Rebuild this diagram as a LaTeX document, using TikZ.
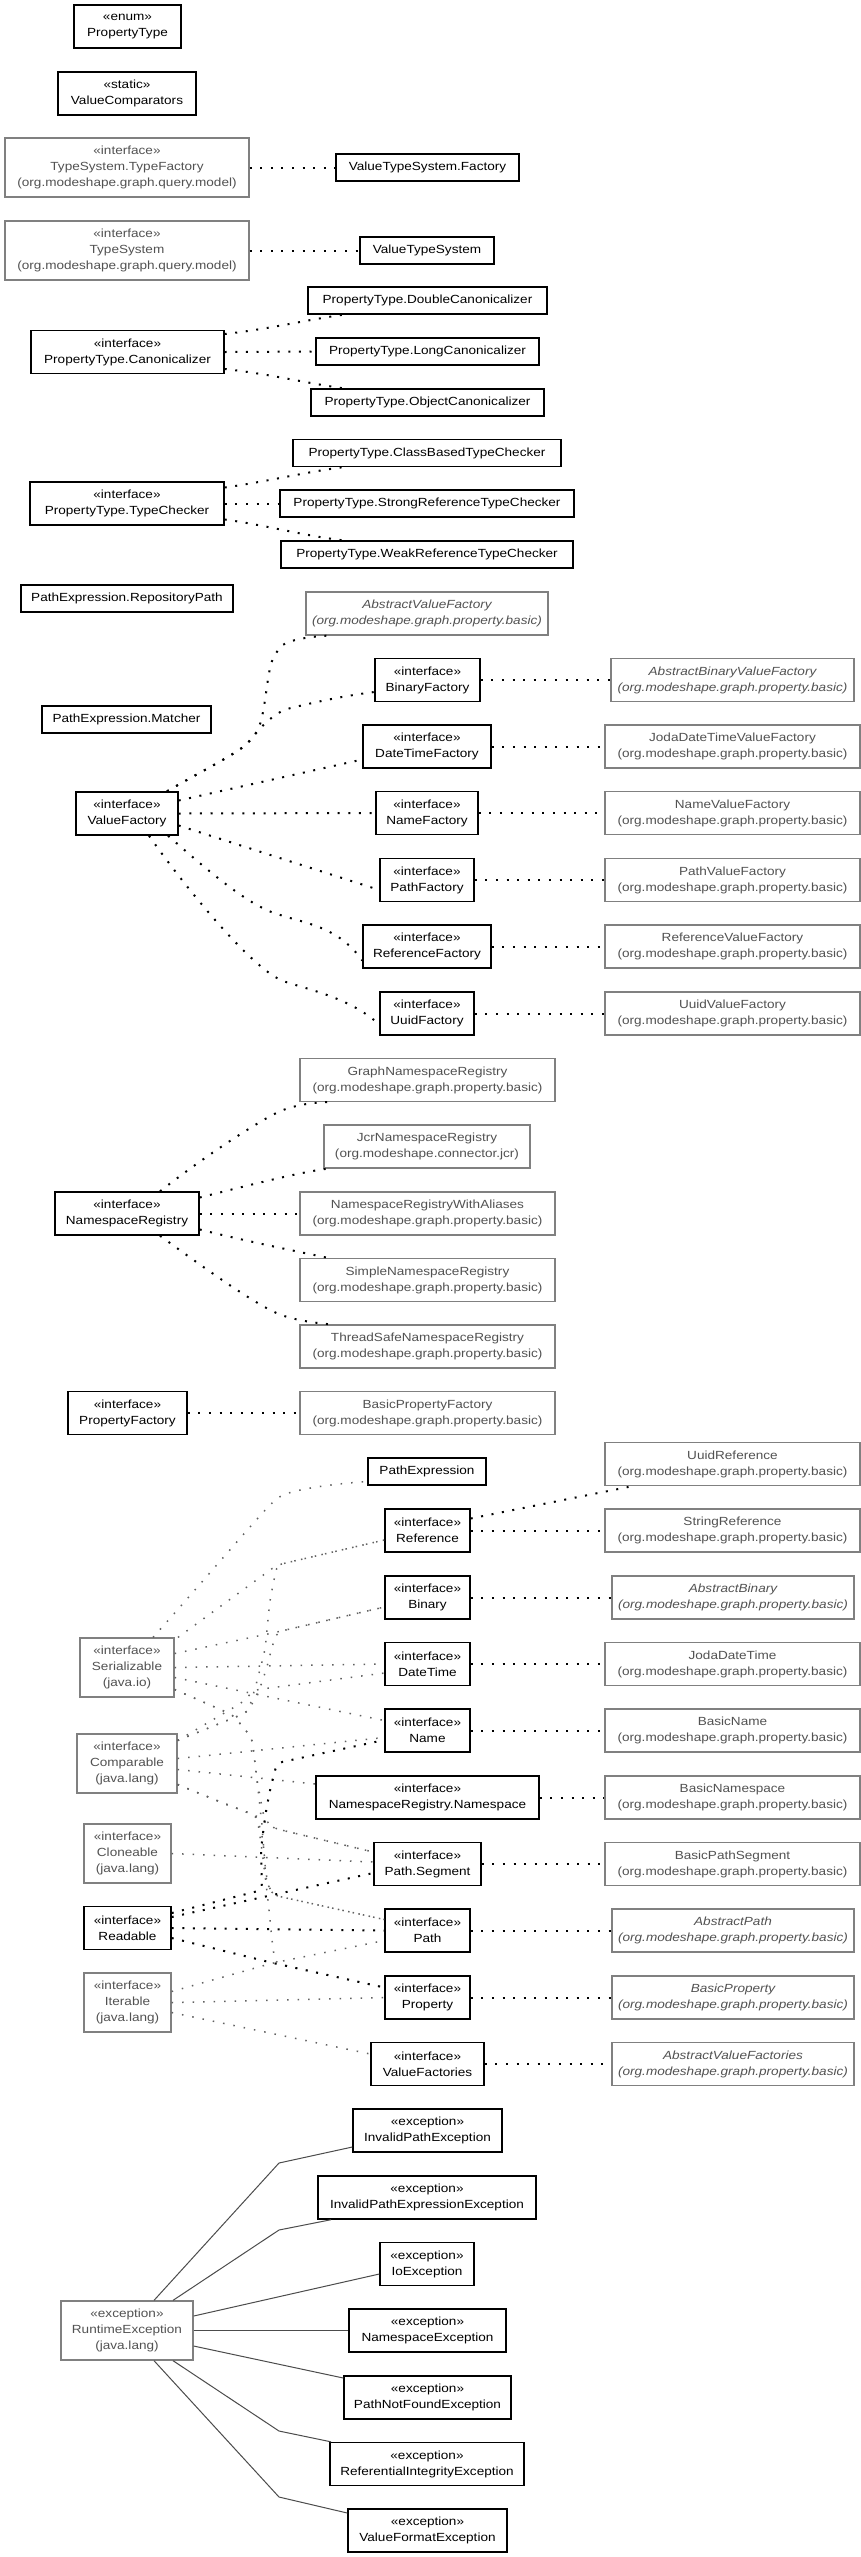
\documentclass[tikz,border=0pt]{standalone}
\usepackage{fontspec}
\setmainfont{Liberation Sans}[FakeStretch=1.15]
\newcommand\fs{\fontsize{11.8pt}{16pt}\selectfont}
\begin{document}
\begin{tikzpicture}[x=1pt,y=-1pt,
  cls/.style={draw=black, line width=1.4pt, fill=white, align=center, inner sep=0pt, font=\fs, text=black, minimum height=43pt},
  ext/.style={cls, line width=1.3pt, draw=black!50, text=black!68},
  one/.style={minimum height=27pt},
  three/.style={minimum height=59pt},
  wd/.style={minimum width=#1},
  itl/.style={font=\fs\itshape},
  dep/.style={draw=black, line width=2pt, dash pattern=on 2pt off 8.6pt, rounded corners=6pt},
  jdep/.style={draw=black!62, line width=1.5pt, dash pattern=on 1.5pt off 9pt, rounded corners=6pt},
  gen/.style={draw=black!70, line width=1pt},
]
\useasboundingbox (0,0) rectangle (861,2557);
\fill[white] (0,0) rectangle (861,2557);

% ---------- top ----------
\node[cls, wd=107pt] (pt) at (127.5,26.5) {«enum»\\PropertyType};
\node[cls, wd=138pt] (vc) at (127,93.5) {«static»\\ValueComparators};
\node[ext, three, wd=244pt] (tsf) at (127,167.5) {«interface»\\TypeSystem.TypeFactory\\(org.modeshape.graph.query.model)};
\node[cls, one, wd=183pt] (vtsf) at (427.5,167.5) {ValueTypeSystem.Factory};
\node[ext, three, wd=244pt] (ts) at (127,250.5) {«interface»\\TypeSystem\\(org.modeshape.graph.query.model)};
\node[cls, one, wd=134pt] (vts) at (427,250.5) {ValueTypeSystem};
\node[cls, one, wd=239pt] (dcan) at (427.5,300.5) {PropertyType.DoubleCanonicalizer};
\node[cls, wd=193pt] (can) at (127.5,352) {«interface»\\PropertyType.Canonicalizer};
\node[cls, one, wd=223pt] (lcan) at (427.5,351.5) {PropertyType.LongCanonicalizer};
\node[cls, one, wd=233pt] (ocan) at (427.5,402.5) {PropertyType.ObjectCanonicalizer};
\node[cls, one, wd=268pt] (cbtc) at (427,453) {PropertyType.ClassBasedTypeChecker};
\node[cls, wd=194pt] (tc) at (127,503.5) {«interface»\\PropertyType.TypeChecker};
\node[cls, one, wd=294pt] (srtc) at (427,503.5) {PropertyType.StrongReferenceTypeChecker};
\node[cls, one, wd=292pt] (wrtc) at (427,554.5) {PropertyType.WeakReferenceTypeChecker};
\node[cls, one, wd=212pt] (rp) at (127,598.5) {PathExpression.RepositoryPath};
\node[cls, one, wd=169pt] (pm) at (126.5,719.5) {PathExpression.Matcher};

% ---------- factories ----------
\node[ext, itl, wd=242pt] (avf) at (427,613.5) {AbstractValueFactory\\(org.modeshape.graph.property.basic)};
\node[cls, wd=105pt] (bf) at (427.5,680) {«interface»\\BinaryFactory};
\node[ext, itl, wd=243pt] (abvf) at (732.5,680) {AbstractBinaryValueFactory\\(org.modeshape.graph.property.basic)};
\node[cls, wd=128pt] (dtf) at (427,746.5) {«interface»\\DateTimeFactory};
\node[ext, wd=255pt] (jdtvf) at (732.5,746.5) {JodaDateTimeValueFactory\\(org.modeshape.graph.property.basic)};
\node[cls, wd=102pt] (vf) at (127,813.5) {«interface»\\ValueFactory};
\node[cls, wd=102pt] (nf) at (427,813) {«interface»\\NameFactory};
\node[ext, wd=255pt] (nvf) at (732.5,813) {NameValueFactory\\(org.modeshape.graph.property.basic)};
\node[cls, wd=94pt] (pf) at (427,880) {«interface»\\PathFactory};
\node[ext, wd=255pt] (pvf) at (732.5,880) {PathValueFactory\\(org.modeshape.graph.property.basic)};
\node[cls, wd=128pt] (rf) at (427,946.5) {«interface»\\ReferenceFactory};
\node[ext, wd=255pt] (rvf) at (732.5,946.5) {ReferenceValueFactory\\(org.modeshape.graph.property.basic)};
\node[cls, wd=94pt] (uf) at (427,1013.5) {«interface»\\UuidFactory};
\node[ext, wd=255pt] (uvf) at (732.5,1013.5) {UuidValueFactory\\(org.modeshape.graph.property.basic)};

% ---------- namespace registry ----------
\node[ext, wd=255pt] (gnr) at (427.5,1080) {GraphNamespaceRegistry\\(org.modeshape.graph.property.basic)};
\node[ext, wd=206pt] (jnr) at (427,1146.5) {JcrNamespaceRegistry\\(org.modeshape.connector.jcr)};
\node[cls, wd=144pt] (nr) at (127,1213.5) {«interface»\\NamespaceRegistry};
\node[ext, wd=255pt] (nrwa) at (427.5,1213.5) {NamespaceRegistryWithAliases\\(org.modeshape.graph.property.basic)};
\node[ext, wd=255pt] (snr) at (427.5,1280) {SimpleNamespaceRegistry\\(org.modeshape.graph.property.basic)};
\node[ext, wd=255pt] (tsnr) at (427.5,1346.5) {ThreadSafeNamespaceRegistry\\(org.modeshape.graph.property.basic)};
\node[cls, wd=119pt] (prf) at (127.5,1413) {«interface»\\PropertyFactory};
\node[ext, wd=255pt] (bpf) at (427.5,1413) {BasicPropertyFactory\\(org.modeshape.graph.property.basic)};

% ---------- values ----------
\node[ext, wd=255pt] (uref) at (732.5,1464) {UuidReference\\(org.modeshape.graph.property.basic)};
\node[cls, one, wd=118pt] (pe) at (427,1471.5) {PathExpression};
\node[cls, wd=85pt] (ref) at (427.5,1530.5) {«interface»\\Reference};
\node[ext, wd=255pt] (sref) at (732.5,1530.5) {StringReference\\(org.modeshape.graph.property.basic)};
\node[cls, wd=85pt] (bin) at (427.5,1597.5) {«interface»\\Binary};
\node[ext, itl, wd=242pt] (ab) at (733,1597.5) {AbstractBinary\\(org.modeshape.graph.property.basic)};
\node[ext, three, wd=94pt] (ser) at (127,1667.5) {«interface»\\Serializable\\(java.io)};
\node[cls, wd=85pt] (dt) at (427.5,1664) {«interface»\\DateTime};
\node[ext, wd=255pt] (jdt) at (732.5,1664) {JodaDateTime\\(org.modeshape.graph.property.basic)};
\node[cls, wd=85pt] (name) at (427.5,1730.5) {«interface»\\Name};
\node[ext, wd=255pt] (bname) at (732.5,1730.5) {BasicName\\(org.modeshape.graph.property.basic)};
\node[ext, three, wd=100pt] (cmp) at (127,1763.5) {«interface»\\Comparable\\(java.lang)};
\node[cls, wd=223pt] (ns) at (427.5,1797.5) {«interface»\\NamespaceRegistry.Namespace};
\node[ext, wd=255pt] (bns) at (732.5,1797.5) {BasicNamespace\\(org.modeshape.graph.property.basic)};
\node[ext, three, wd=87pt] (cln) at (127.5,1853.5) {«interface»\\Cloneable\\(java.lang)};
\node[cls, wd=107pt] (seg) at (427.5,1864) {«interface»\\Path.Segment};
\node[ext, wd=255pt] (bseg) at (732.5,1864) {BasicPathSegment\\(org.modeshape.graph.property.basic)};
\node[cls, wd=87pt] (rd) at (127.5,1928) {«interface»\\Readable};
\node[cls, wd=85pt] (path) at (427.5,1930.5) {«interface»\\Path};
\node[ext, itl, wd=242pt] (ap) at (733,1930.5) {AbstractPath\\(org.modeshape.graph.property.basic)};
\node[ext, three, wd=87pt] (it) at (127.5,2002.5) {«interface»\\Iterable\\(java.lang)};
\node[cls, wd=85pt] (prop) at (427.5,1997.5) {«interface»\\Property};
\node[ext, itl, wd=242pt] (bp) at (733,1997.5) {BasicProperty\\(org.modeshape.graph.property.basic)};
\node[cls, wd=113pt] (vfs) at (427.5,2064) {«interface»\\ValueFactories};
\node[ext, itl, wd=242pt] (avfs) at (733,2064) {AbstractValueFactories\\(org.modeshape.graph.property.basic)};

% ---------- exceptions ----------
\node[ext, three, wd=132pt] (re) at (127,2330.5) {«exception»\\RuntimeException\\(java.lang)};
\node[cls, wd=149pt] (ipe) at (427.5,2130.5) {«exception»\\InvalidPathException};
\node[cls, wd=218pt] (ipee) at (427,2197.5) {«exception»\\InvalidPathExpressionException};
\node[cls, wd=94pt] (ioe) at (427,2264) {«exception»\\IoException};
\node[cls, wd=157pt] (nse) at (427.5,2330.5) {«exception»\\NamespaceException};
\node[cls, wd=167pt] (pnfe) at (427.5,2397.5) {«exception»\\PathNotFoundException};
\node[cls, wd=194pt] (rie) at (427,2464) {«exception»\\ReferentialIntegrityException};
\node[cls, wd=159pt] (vfe) at (427.5,2530.5) {«exception»\\ValueFormatException};

% ---------- connectors: top ----------
\draw[dep] (tsf.east) -- (vtsf.west);
\draw[dep] (ts.east) -- (vts.west);
\draw[dep] ([yshift=18pt]can.east) .. controls (270,329) and (305,320) .. ([xshift=-84pt]dcan.south);
\draw[dep] (can.east) -- (lcan.west);
\draw[dep] ([yshift=-17pt]can.east) .. controls (270,374) and (305,383) .. ([xshift=-84pt]ocan.north);
\draw[dep] ([yshift=16pt]tc.east) .. controls (265,482) and (305,472) .. ([xshift=-84pt]cbtc.south);
\draw[dep] (tc.east) -- (srtc.west);
\draw[dep] ([yshift=-16pt]tc.east) .. controls (265,525) and (305,536) .. ([xshift=-84pt]wrtc.north);

% ---------- connectors: factories ----------
\draw[dep] ([xshift=40pt]vf.north) .. controls (200,772) and (240,752) .. (252,738)
   .. controls (266,720) and (266,672) .. (276,653) .. controls (284,641) and (305,637) .. ([xshift=-100pt]avf.south);
\draw[dep] ([xshift=40pt]vf.north) .. controls (200,772) and (240,752) .. (252,738)
   .. controls (262,726) and (275,712) .. (295,707) .. controls (325,700) and (350,695) .. ([yshift=-12pt]bf.west);
\draw[dep] ([yshift=13pt]vf.east) -- ([yshift=-13pt]dtf.west);
\draw[dep] (vf.east) -- (nf.west);
\draw[dep] ([yshift=-12pt]vf.east) -- ([yshift=-10pt]pf.west);
\draw[dep] ([xshift=41pt]vf.south) .. controls (205,868) and (245,903) .. (280,915) .. controls (310,924) and (340,929) .. ([yshift=-14pt]rf.west);
\draw[dep] ([xshift=22pt]vf.south) .. controls (180,880) and (240,955) .. (280,980) .. controls (310,990) and (350,998) .. ([yshift=-11pt]uf.west);
\draw[dep] (bf.east) -- (abvf.west);
\draw[dep] (dtf.east) -- (jdtvf.west);
\draw[dep] (nf.east) -- (nvf.west);
\draw[dep] (pf.east) -- (pvf.west);
\draw[dep] (rf.east) -- (rvf.west);
\draw[dep] (uf.east) -- (uvf.west);

% ---------- connectors: namespace registry ----------
\draw[dep] ([xshift=33pt]nr.north) .. controls (200,1160) and (245,1130) .. (276,1113) .. controls (295,1105) and (315,1102) .. ([xshift=-97pt]gnr.south);
\draw[dep] ([yshift=16pt]nr.east) .. controls (250,1185) and (300,1172) .. ([xshift=-99pt]jnr.south);
\draw[dep] (nr.east) -- (nrwa.west);
\draw[dep] ([yshift=-16pt]nr.east) .. controls (250,1242) and (300,1252) .. ([xshift=-99.5pt]snr.north);
\draw[dep] ([xshift=33pt]nr.south) .. controls (200,1265) and (245,1297) .. (276,1313) .. controls (295,1320) and (315,1323) .. ([xshift=-97pt]tsnr.north);
\draw[dep] (prf.east) -- (bpf.west);

% ---------- connectors: values, right side ----------
\draw[dep] ([yshift=12pt]ref.east) -- ([xshift=-100pt]uref.south);
\draw[dep] (ref.east) -- (sref.west);
\draw[dep] (bin.east) -- (ab.west);
\draw[dep] (dt.east) -- (jdt.west);
\draw[dep] (name.east) -- (bname.west);
\draw[dep] (ns.east) -- (bns.west);
\draw[dep] (seg.east) -- (bseg.west);
\draw[dep] (path.east) -- (ap.west);
\draw[dep] (prop.east) -- (bp.west);
\draw[dep] (vfs.east) -- (avfs.west);

% ---------- connectors: java interfaces ----------
\draw[jdep] ([xshift=26pt]ser.north) .. controls (200,1585) and (255,1520) .. (275,1500) .. controls (290,1490) and (330,1484) .. ([yshift=-10pt]pe.west);
\draw[jdep] ([xshift=51pt]ser.north) -- (277,1565) -- ([yshift=-9.5pt]ref.west);
\draw[jdep] ([yshift=14pt]ser.east) -- (277,1632) -- ([yshift=-9.5pt]bin.west);
\draw[jdep] (ser.east) -- (dt.west);
\draw[jdep] ([yshift=-10pt]ser.east) -- ([yshift=10pt]name.west);
\draw[jdep] ([yshift=-22pt]ser.east) -- (233,1715) -- (252,1738) -- (257,1780) -- (264,1818) -- (273,1828) -- ([yshift=12pt]seg.west);
\draw[jdep] ([yshift=-22pt]ser.east) -- (233,1715) -- (252,1738) -- (257,1780) -- (262,1825) -- (265,1865) -- (268,1886) -- (273,1895) -- ([yshift=11pt]path.west);

\draw[jdep] ([yshift=23pt]cmp.east) -- (248,1712) -- (256,1685) -- (265,1650) -- (270,1600) -- (277,1565) -- ([yshift=-9.5pt]ref.west);
\draw[jdep] ([yshift=23pt]cmp.east) -- (248,1712) -- (260,1688) -- (267,1667) -- (272,1647) -- (277,1632) -- ([yshift=-9.5pt]bin.west);
\draw[jdep] ([yshift=23pt]cmp.east) -- (243,1702) -- (254,1690) -- ([yshift=-9pt]dt.west);
\draw[jdep] ([yshift=5pt]cmp.east) -- ([yshift=-7pt]name.west);
\draw[jdep] ([yshift=-6pt]cmp.east) -- ([yshift=13.5pt]ns.west);
\draw[jdep] ([yshift=-21pt]cmp.east) -- (223,1803) -- (257,1816) -- (273,1828) -- ([yshift=12pt]seg.west);
\draw[jdep] ([yshift=-21pt]cmp.east) -- (223,1803) -- (257,1816) -- (263,1840) -- (266,1880) -- (273,1895) -- ([yshift=11pt]path.west);
\draw[jdep] ([yshift=-21pt]cmp.east) -- (223,1803) -- (257,1816) -- (262,1850) -- (268,1900) -- (272,1940) -- (275,1963) -- ([yshift=10pt]prop.west);

\draw[jdep] (cln.east) -- ([yshift=2pt]seg.west);

\draw[dep] ([yshift=15pt]rd.east) -- (262,1890) -- (261,1850) -- (265,1817) -- (270,1790) -- (277,1763) -- ([yshift=-9.5pt]name.west);
\draw[dep] ([yshift=11pt]rd.east) -- ([yshift=-9pt]seg.west);
\draw[dep] (rd.east) -- (path.west);
\draw[dep] ([yshift=-10pt]rd.east) -- (273,1963) -- ([yshift=10pt]prop.west);

\draw[jdep] ([yshift=11pt]it.east) -- (273,1963) -- ([yshift=-10pt]path.west);
\draw[jdep] (it.east) -- (prop.west);
\draw[jdep] ([yshift=-10pt]it.east) -- ([yshift=10pt]vfs.west);

% ---------- connectors: exceptions ----------
\draw[gen] ([xshift=27pt]re.north) -- (279,2163) -- ([yshift=-16.5pt]ipe.west);
\draw[gen] ([xshift=46pt]re.north) -- (279,2230) -- ([xshift=-96pt]ipee.south);
\draw[gen] ([yshift=14.5pt]re.east) -- ([yshift=-10pt]ioe.west);
\draw[gen] (re.east) -- (nse.west);
\draw[gen] ([yshift=-15.5pt]re.east) -- ([yshift=19.5pt]pnfe.west);
\draw[gen] ([xshift=46pt]re.south) -- (279,2431) -- ([xshift=-96pt]rie.north);
\draw[gen] ([xshift=27pt]re.south) -- (279,2497) -- ([yshift=17.5pt]vfe.west);
\end{tikzpicture}
\end{document}
